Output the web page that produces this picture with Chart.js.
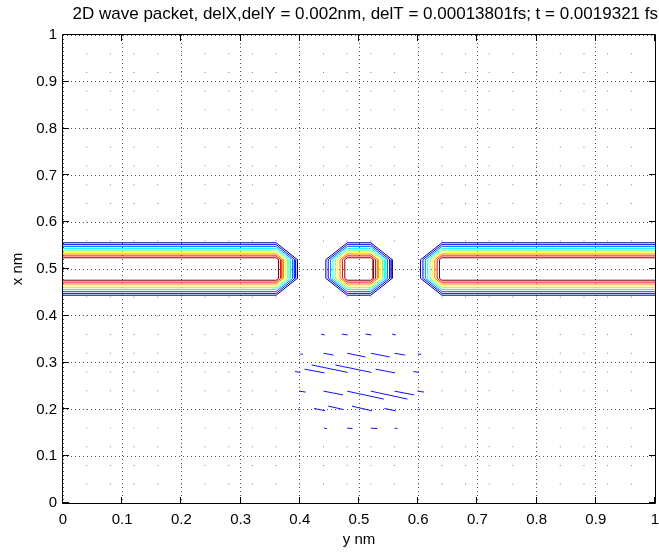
<!DOCTYPE html>
<html>
<head>
<meta charset="utf-8">
<script src="https://cdn.jsdelivr.net/npm/chart.js@4/dist/chart.umd.min.js"></script>
<style>
  body { margin: 0; background: #fff; }
  #wrap { width: 659px; height: 552px; }
</style>
</head>
<body>
<div id="wrap"><canvas id="packetChart" width="659" height="552"></canvas></div>
<script>
// axis ticks (both axes run 0..1 nm)
const tickValues = [0, 0.1, 0.2, 0.3, 0.4, 0.5, 0.6, 0.7, 0.8, 0.9, 1];
const tickLabels = ['0', '0.1', '0.2', '0.3', '0.4', '0.5', '0.6', '0.7', '0.8', '0.9', '1'];

// barrier blocks (y nm on the horizontal axis, x nm on the vertical one)
const barrierX0 = [-0.1, 0.48, 0.64];
const barrierX1 = [0.36, 0.52, 1.1];
const barrierY0 = [0.48, 0.48, 0.48];
const barrierY1 = [0.52, 0.52, 0.52];

// contour levels: distance from the block edge, outer (blue) to inner (red)
const contourOffsets = [0.036, 0.032, 0.028, 0.024, 0.020, 0.016, 0.012, 0.008, 0.004];
const contourColors = ['#00008f', '#0000ff', '#0080ff', '#00ffff', '#80ff80', '#ffff00', '#ff8000', '#ff0000', '#800000'];

// quiver grid (spacing 0.04 nm)
const gridPos = [0.04, 0.08, 0.12, 0.16, 0.2, 0.24, 0.28, 0.32, 0.36, 0.4, 0.44, 0.48,
                 0.52, 0.56, 0.6, 0.64, 0.68, 0.72, 0.76, 0.8, 0.84, 0.88, 0.92, 0.96];

// wave packet arrows
const arrowX1 = [0.436, 0.471, 0.511, 0.556,
                 0.401, 0.440, 0.480, 0.520, 0.560, 0.600,
                 0.392, 0.408, 0.420, 0.460, 0.528, 0.592,
                 0.399, 0.440, 0.480, 0.520, 0.560, 0.599,
                 0.397, 0.424, 0.448, 0.488, 0.543, 0.599,
                 0.441, 0.480, 0.520, 0.560];
const arrowY1 = [0.361, 0.361, 0.361, 0.361,
                 0.318, 0.320, 0.320, 0.320, 0.320, 0.318,
                 0.281, 0.286, 0.295, 0.295, 0.286, 0.281,
                 0.239, 0.239, 0.239, 0.239, 0.239, 0.239,
                 0.200, 0.202, 0.207, 0.207, 0.202, 0.200,
                 0.160, 0.160, 0.160, 0.160];
const arrowX2 = [0.442, 0.481, 0.521, 0.562,
                 0.405, 0.457, 0.511, 0.552, 0.578, 0.605,
                 0.401, 0.442, 0.481, 0.521, 0.561, 0.601,
                 0.410, 0.473, 0.542, 0.582, 0.593, 0.610,
                 0.401, 0.443, 0.473, 0.522, 0.562, 0.602,
                 0.446, 0.489, 0.531, 0.565];
const arrowY2 = [0.359, 0.359, 0.359, 0.359,
                 0.318, 0.316, 0.312, 0.312, 0.316, 0.318,
                 0.279, 0.278, 0.279, 0.279, 0.278, 0.279,
                 0.237, 0.231, 0.222, 0.222, 0.231, 0.237,
                 0.200, 0.197, 0.200, 0.197, 0.197, 0.200,
                 0.159, 0.159, 0.159, 0.159];

const titleText = '2D wave packet, delX,delY = 0.002nm, delT = 0.00013801fs; t = 0.0019321 fs';

function contourPath(d) {
    const pts = [];
    for (let i = 0; i < barrierX0.length; i++) {
        const x0 = barrierX0[i], x1 = barrierX1[i], y0 = barrierY0[i], y1 = barrierY1[i];
        pts.push({x: x0, y: y1 + d}, {x: x1, y: y1 + d}, {x: x1 + d, y: y1},
                 {x: x1 + d, y: y0}, {x: x1, y: y0 - d}, {x: x0, y: y0 - d},
                 {x: x0 - d, y: y0}, {x: x0 - d, y: y1}, {x: x0, y: y1 + d},
                 {x: x0, y: null});
    }
    return pts;
}

function arrowPath() {
    const pts = [];
    arrowX1.forEach((x, i) => {
        pts.push({x: x, y: arrowY1[i]}, {x: arrowX2[i], y: arrowY2[i]}, {x: x, y: null});
    });
    return pts;
}

function gridDots() {
    const pts = [];
    gridPos.forEach(gx => {
        gridPos.forEach(gy => {
            const inBar = gy > 0.46 && gy < 0.54;
            const inPacket = gx > 0.42 && gx < 0.58 && gy > 0.14 && gy < 0.38;
            if (!inBar && !inPacket) pts.push({x: gx, y: gy});
        });
    });
    return pts;
}

const datasets = [];
datasets.push({
    data: gridDots(),
    showLine: false,
    pointStyle: 'rect',
    pointRadius: 0.7,
    pointBackgroundColor: '#7070f0',
    pointBorderWidth: 0
});
contourOffsets.forEach((d, i) => {
    datasets.push({
        data: contourPath(d),
        showLine: true,
        borderColor: contourColors[i],
        borderWidth: 1,
        pointRadius: 0,
        spanGaps: false,
        tension: 0
    });
});
datasets.push({
    data: arrowPath(),
    showLine: true,
    borderColor: '#1010ff',
    borderWidth: 1,
    pointRadius: 0,
    spanGaps: false,
    tension: 0
});

// box and inward tick marks, matlab style
const boxPlugin = {
    id: 'boxTicks',
    afterDraw(chart) {
        const {ctx, chartArea: a, scales: {x, y}} = chart;
        const len = 6;
        ctx.save();
        ctx.strokeStyle = '#000';
        ctx.lineWidth = 1;
        ctx.beginPath();
        ctx.rect(a.left - 0.5, a.top - 0.5, a.right - a.left + 1, a.bottom - a.top + 1);
        tickValues.forEach(v => {
            const px = Math.round(x.getPixelForValue(v)) - 0.5;
            ctx.moveTo(px, a.bottom); ctx.lineTo(px, a.bottom - len);
            ctx.moveTo(px, a.top); ctx.lineTo(px, a.top + len);
            const py = Math.round(y.getPixelForValue(v)) - 0.5;
            ctx.moveTo(a.left, py); ctx.lineTo(a.left + len, py);
            ctx.moveTo(a.right, py); ctx.lineTo(a.right - len, py);
        });
        ctx.stroke();
        ctx.restore();
    }
};

function axisTicks(scale) {
    scale.ticks = tickValues.map(v => ({value: v}));
}

const family = '"Liberation Sans", Arial, Helvetica, sans-serif';
const font = {family: family, size: 15};

new Chart(document.getElementById('packetChart'), {
    type: 'scatter',
    data: { datasets: datasets },
    options: {
        responsive: false,
        animation: false,
        events: [],
        layout: { padding: { right: 1 } },
        plugins: {
            legend: { display: false },
            tooltip: { enabled: false },
            title: {
                display: true,
                text: titleText,
                align: 'end',
                color: '#000',
                font: {family: family, size: 17, weight: 'normal'},
                padding: {top: 4, bottom: 10.6}
            }
        },
        scales: {
            x: {
                type: 'linear',
                min: 0, max: 1,
                afterBuildTicks: axisTicks,
                afterFit(scale) { scale.height = 49; scale.paddingLeft = 0; scale.paddingRight = 0; },
                ticks: {
                    color: '#000', font: font, padding: 8, maxRotation: 0,
                    callback: (v, i) => tickLabels[i]
                },
                grid: { color: '#555', drawTicks: false },
                border: { display: false, dash: [1, 3] },
                title: { display: true, text: 'y nm', color: '#000', font: font, padding: {top: 0, bottom: 3} }
            },
            y: {
                type: 'linear',
                min: 0, max: 1,
                afterBuildTicks: axisTicks,
                afterFit(scale) { scale.width = 63; scale.paddingTop = 0; scale.paddingBottom = 0; },
                ticks: {
                    color: '#000', font: font, padding: 6,
                    callback: (v, i) => tickLabels[i]
                },
                grid: { color: '#555', drawTicks: false },
                border: { display: false, dash: [1, 3] },
                title: { display: true, text: 'x nm', color: '#000', font: font, padding: {top: 9, bottom: 0} }
            }
        }
    },
    plugins: [boxPlugin]
});
</script>
</body>
</html>
